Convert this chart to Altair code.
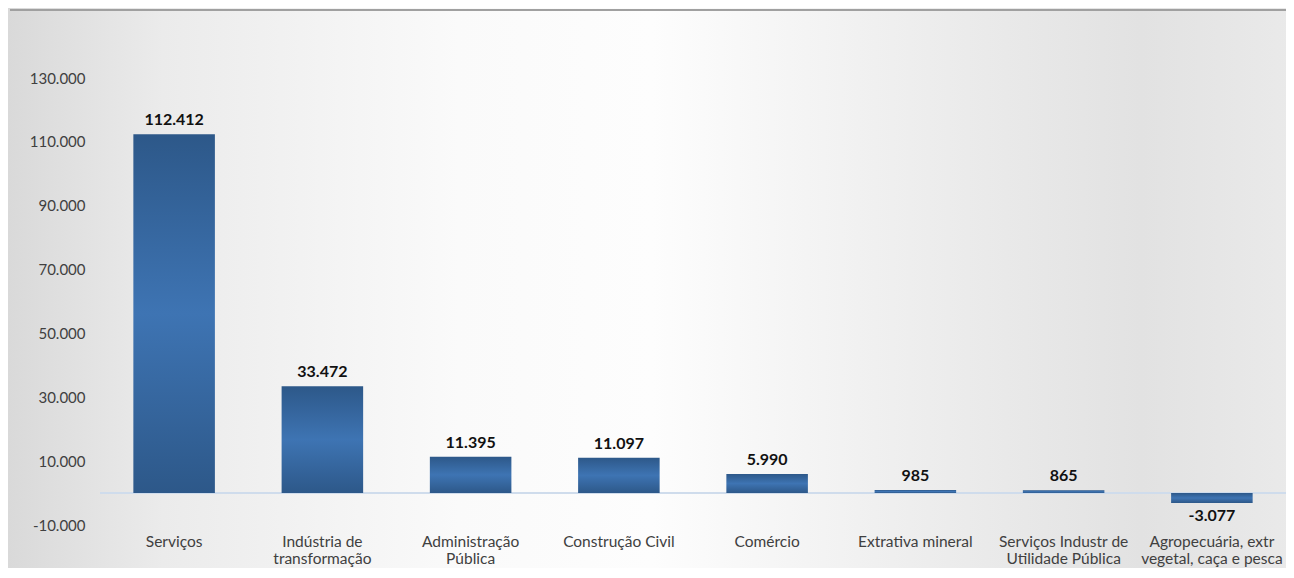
import altair as alt
import pandas as pd

categories = [
    "Serviços",
    "Indústria de\ntransformação",
    "Administração\nPública",
    "Construção Civil",
    "Comércio",
    "Extrativa mineral",
    "Serviços Industr de\nUtilidade Pública",
    "Agropecuária, extr\nvegetal, caça e pesca",
]
values = [112412, 33472, 11395, 11097, 5990, 985, 865, -3077]
y_ticks = [-10000, 10000, 30000, 50000, 70000, 90000, 110000, 130000]

df = pd.DataFrame({"cat": categories, "v": values})
one = pd.DataFrame({"k": [0]})

W, H = 1186, 447
PL, PT, PR, PB = 92, 70, 0, 43
FONT = "Lato"

fmt = "replace(replace(format(%s, ',.0f'), ',', '.'), '\u2212', '-')"

x_enc = alt.X(
    "cat:N",
    sort=categories,
    title=None,
    scale=alt.Scale(paddingInner=0.45, paddingOuter=0.225),
    axis=alt.Axis(
        labelExpr="split(datum.label, '\\n')",
        labelAngle=0,
        labelFont=FONT,
        labelFontSize=15.5,
        labelColor="#404040",
        labelLineHeight=17,
        labelPadding=9,
        ticks=False,
        domain=False,
        labelLimit=300,
        zindex=1,
    ),
)
y_scale = alt.Scale(domain=[-10000, 130000], nice=False, zero=False)
y_enc = alt.Y(
    "v:Q",
    scale=y_scale,
    title=None,
    axis=alt.Axis(
        values=y_ticks,
        labelExpr=fmt % "datum.value",
        labelFont=FONT,
        labelFontSize=15,
        labelColor="#404040",
        labelPadding=15,
        ticks=False,
        domain=False,
        grid=False,
        zindex=1,
    ),
)

bg = alt.Chart(one).mark_rect(
    color=alt.LinearGradient(
        gradient="linear",
        stops=[
            alt.GradientStop(color="#d9d9d9", offset=0),
            alt.GradientStop(color="#ebebeb", offset=0.12),
            alt.GradientStop(color="#fafafa", offset=0.35),
            alt.GradientStop(color="#fdfdfd", offset=0.5),
            alt.GradientStop(color="#eeeeee", offset=0.7),
            alt.GradientStop(color="#e2e2e2", offset=0.88),
            alt.GradientStop(color="#eaeaea", offset=1),
        ],
        x1=0, x2=1, y1=0, y2=0,
    )
).encode(
    x=alt.value(-PL), x2=alt.value(W + 10),
    y=alt.value(-PT), y2=alt.value(H + PB + 10),
)

top_line = alt.Chart(one).mark_rule(color="#a0a0a0", strokeWidth=2).encode(
    x=alt.value(-PL + 2), x2=alt.value(W), y=alt.value(-PT + 2)
)

zero_rule = alt.Chart(one).mark_rule(color="#cfdcec", strokeWidth=2).encode(
    y=alt.datum(0, scale=y_scale), x=alt.value(0), x2=alt.value(W)
)

bars = alt.Chart(df).mark_bar(
    color=alt.LinearGradient(
        gradient="linear",
        stops=[
            alt.GradientStop(color="#2d5889", offset=0),
            alt.GradientStop(color="#3e74b3", offset=0.5),
            alt.GradientStop(color="#2d5889", offset=1),
        ],
        x1=0, x2=0, y1=0, y2=1,
    )
).encode(x=x_enc, y=y_enc, y2=alt.datum(0))

base_txt = alt.Chart(df).transform_calculate(lbl=fmt % "datum.v")
txt_pos = base_txt.transform_filter("datum.v >= 0").mark_text(
    font=FONT, fontSize=16, fontWeight="bold", color="#111111",
    baseline="bottom", dy=-6,
).encode(x=alt.X("cat:N", sort=categories), y=alt.Y("v:Q", scale=y_scale), text="lbl:N")
txt_neg = base_txt.transform_filter("datum.v < 0").mark_text(
    font=FONT, fontSize=16, fontWeight="bold", color="#111111",
    baseline="top", dy=5,
).encode(x=alt.X("cat:N", sort=categories), y=alt.Y("v:Q", scale=y_scale), text="lbl:N")

chart = alt.layer(bg, top_line, zero_rule, bars, txt_pos, txt_neg).properties(
    width=W, height=H,
    autosize=alt.AutoSizeParams(type="none"),
    padding={"left": PL, "top": PT, "right": PR, "bottom": PB},
).configure_view(stroke=None).configure(background="#eeeeee")

chart.save("out.html", embed_options={"renderer": "svg", "actions": False})
